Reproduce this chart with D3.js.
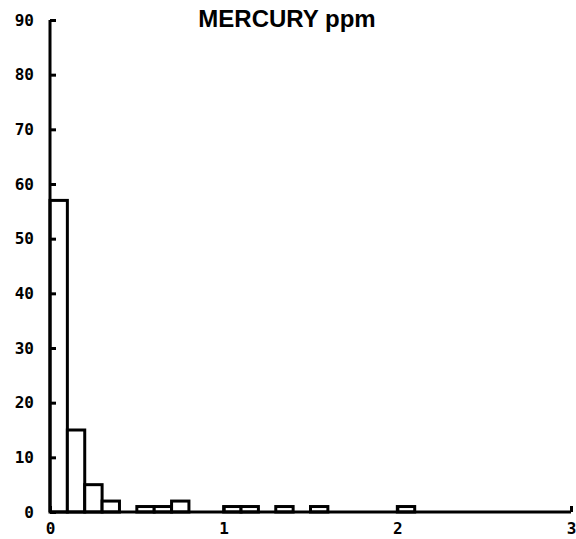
<!DOCTYPE html>
<html>
<head>
<meta charset="utf-8">
<script src="https://cdn.jsdelivr.net/npm/d3@7"></script>
<style>
  body { margin: 0; background: #fff; }
  .tick text { font-family: "DejaVu Sans Mono", monospace; font-weight: bold; }
</style>
</head>
<body>
<script>
// histogram bins (ppm), width 0.1
const binStarts = [0, 0.1, 0.2, 0.3, 0.5, 0.6, 0.7, 1.0, 1.1, 1.3, 1.5, 2.0];
const counts    = [57, 15, 5, 2, 1, 1, 2, 1, 1, 1, 1, 1];
const binWidth = 0.1;
const yTicks = [0, 10, 20, 30, 40, 50, 60, 70, 80, 90];
const xTicks = [0, 1, 2, 3];

const width = 576, height = 539;
const margin = {left: 50, right: 5, top: 20, bottom: 27};

const svg = d3.select('body').append('svg')
    .attr('width', width)
    .attr('height', height);

const x = d3.scaleLinear()
    .domain([0, 3])
    .range([margin.left, width - margin.right]);

const y = d3.scaleLinear()
    .domain([0, 90])
    .range([height - margin.bottom, margin.top]);

// bars
svg.selectAll('rect.bar')
    .data(binStarts)
    .enter()
    .append('rect')
    .attr('class', 'bar')
    .attr('x', d => x(d))
    .attr('width', d => x(d + binWidth) - x(d))
    .attr('y', (d, i) => y(counts[i]))
    .attr('height', (d, i) => y(0) - y(counts[i]))
    .attr('fill', '#fff')
    .attr('stroke', '#000')
    .attr('stroke-width', 3);

// y axis
const yAxis = svg.append('g')
    .attr('transform', `translate(${margin.left},0)`)
    .call(d3.axisLeft(y).tickValues(yTicks).tickSize(-6).tickPadding(16).tickFormat(d3.format('d')));
yAxis.select('.domain').attr('stroke-width', 3).attr('d', `M0,${y(0)}V${y(90)}`);
yAxis.selectAll('.tick line').attr('stroke-width', 3);
yAxis.selectAll('.tick text').style('font-size', '16px').attr('fill', '#000');

// x axis
const xAxis = svg.append('g')
    .attr('transform', `translate(0,${y(0)})`)
    .call(d3.axisBottom(x).tickValues(xTicks).tickSize(-6).tickPadding(11).tickFormat(d3.format('d')));
xAxis.select('.domain').attr('stroke-width', 3).attr('d', `M${x(0)},0H${x(3)}`);
xAxis.selectAll('.tick line').attr('stroke-width', 3);
xAxis.selectAll('.tick text').style('font-size', '16px').attr('fill', '#000');

// title
svg.append('text')
    .text('MERCURY ppm')
    .attr('x', 287)
    .attr('y', 27)
    .attr('text-anchor', 'middle')
    .style('font-family', 'Liberation Sans, Arial, sans-serif')
    .style('font-weight', 'bold')
    .style('font-size', '24px');
</script>
</body>
</html>
